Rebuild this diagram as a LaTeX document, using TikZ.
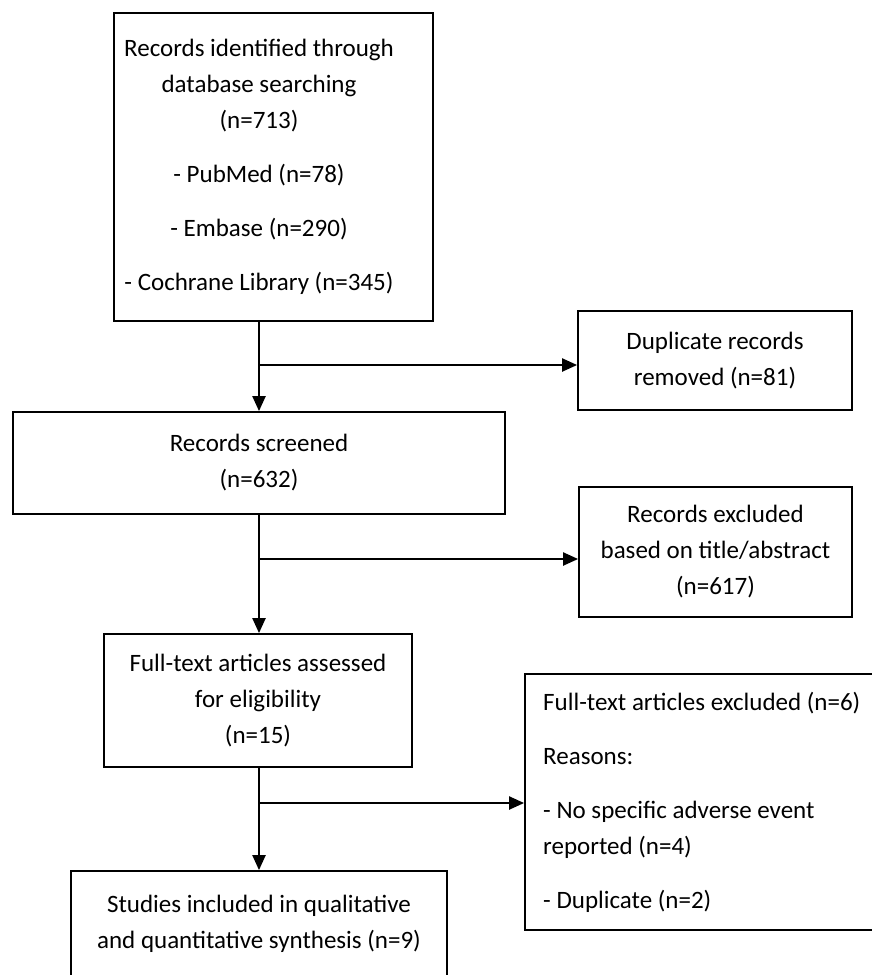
\documentclass[tikz,border=0pt]{standalone}
\usepackage{fontspec}
\setmainfont{Carlito}
\usetikzlibrary{arrows.meta}
\begin{document}
\begin{tikzpicture}[x=1pt,y=-1pt,
  box/.style={draw=black, line width=1.8pt, inner sep=0pt, font=\fontsize{25}{36}\selectfont},
  txt/.style={inner sep=0pt, font=\fontsize{25}{36}\selectfont},
  conn/.style={line width=2.2pt},
  arr/.style={conn, -{Triangle[width=13pt,length=15pt]}}]
\useasboundingbox (0,0) rectangle (872,975);
\clip (0,0) rectangle (872,975);
% boxes
\node[box, minimum width=319pt, minimum height=308pt] (b1) at (273.5,167) {};
\node[txt, align=center] (b1t) at (259,167)
  {Records identified through\\database searching\\(n=713)\\[18pt]- PubMed (n=78)\\[18pt]- Embase (n=290)\\[18pt]- Cochrane Library (n=345)};
\node[box, align=center, minimum width=274pt, minimum height=99pt] (dup) at (715,360.5)
  {Duplicate records\\removed (n=81)};
\node[box, align=center, minimum width=492pt, minimum height=102pt] (b2) at (259,463)
  {Records screened\\(n=632)};
\node[box, align=center, minimum width=273pt, minimum height=130pt] (excl) at (715.5,552)
  {Records excluded\\based on title/abstract\\(n=617)};
\node[box, align=center, minimum width=308pt, minimum height=133pt] (b3) at (258,700.5)
  {Full-text articles assessed\\for eligibility\\(n=15)};
\node[box, minimum width=380pt, minimum height=256pt] (exf) at (715,802) {};
\node[txt, align=left, anchor=west] (exft) at (543,802)
  {Full-text articles excluded (n=6)\\[18pt]Reasons:\\[18pt]- No specific adverse event\\reported (n=4)\\[18pt]- Duplicate (n=2)};
\node[box, align=center, minimum width=376pt, minimum height=106pt] (b4) at (259,924)
  {Studies included in qualitative\\and quantitative synthesis (n=9)};
% junctions
\coordinate (j1) at (259,365);
\coordinate (j2) at (259,559);
\coordinate (j3) at (259,803);
% connectors
\draw[arr] (b1.south -| b2.north) -- (b2.north);
\draw[arr] (j1) -- (j1 -| dup.west);
\draw[arr] (b2.south) -- (b2.south |- b3.north);
\draw[arr] (j2) -- (j2 -| excl.west);
\draw[arr] (b3.south -| b4.north) -- (b4.north);
\draw[arr] (j3) -- (j3 -| exf.west);
\end{tikzpicture}
\end{document}
